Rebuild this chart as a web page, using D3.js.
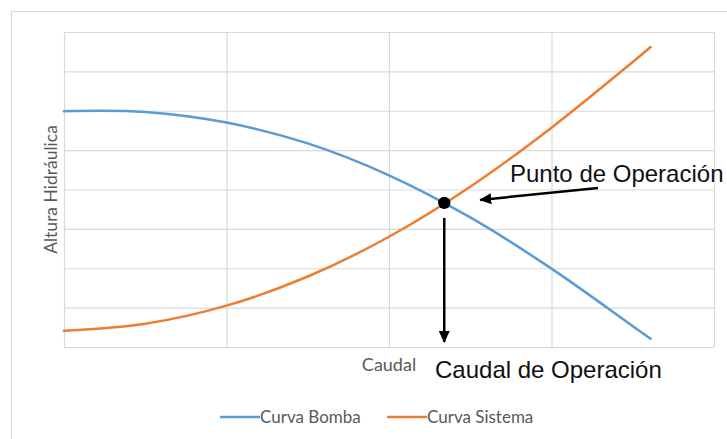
<!DOCTYPE html>
<html>
<head>
<meta charset="utf-8">
<script src="https://cdn.jsdelivr.net/npm/d3@7"></script>
<style>
  html, body { margin: 0; padding: 0; background: #fff; }
  svg { display: block; }
</style>
</head>
<body>
<svg id="chart" width="727" height="439"></svg>
<script>
// Caudal (flow) sample points and head values for each curve
const caudal   = [0, 0.5, 1.0, 1.5, 2.0, 2.5, 3.0, 3.5, 3.61];
const bomba    = [5.99, 5.97, 5.70, 5.17, 4.36, 3.29, 1.99, 0.53, 0.21];
const sistema  = [0.41, 0.59, 1.05, 1.79, 2.80, 4.07, 5.57, 7.24, 7.62];

// Operating point (intersection of the two curves)
const operacion = { q: 2.34, h: 3.66 };

const seriesNames  = ["Curva Bomba", "Curva Sistema"];
const seriesColors = ["#5B9BD5", "#ED7D31"];
const xTicks = [0, 1, 2, 3, 4];
const yTicks = [0, 1, 2, 3, 4, 5, 6, 7, 8];

const svg = d3.select("#chart");
const W = 727, H = 439;
const plot = { left: 64, top: 32, right: 714, bottom: 347 };

// outer chart frame
svg.append("rect")
  .attr("x", 11.5).attr("y", 11.5)
  .attr("width", W + 20).attr("height", H + 20)
  .attr("fill", "#fff").attr("stroke", "#d9d9d9").attr("stroke-width", 1);

const x = d3.scaleLinear().domain([0, 4]).range([plot.left, plot.right]);
const y = d3.scaleLinear().domain([0, 8]).range([plot.bottom, plot.top]);

// grid via axes with no labels
const gx = svg.append("g")
  .attr("transform", `translate(0,${plot.bottom})`)
  .call(d3.axisBottom(x).tickValues(xTicks).tickSize(-(plot.bottom - plot.top)).tickFormat(""));
const gy = svg.append("g")
  .attr("transform", `translate(${plot.left},0)`)
  .call(d3.axisLeft(y).tickValues(yTicks).tickSize(-(plot.right - plot.left)).tickFormat(""));
[gx, gy].forEach(g => {
  g.select(".domain").remove();
  g.selectAll(".tick line").attr("stroke", "#d9d9d9").attr("stroke-width", 1.2);
});

// curves
const line = d3.line()
  .x(d => x(d[0])).y(d => y(d[1]))
  .curve(d3.curveCatmullRom.alpha(0.5));

[bomba, sistema].forEach((vals, i) => {
  svg.append("path")
    .datum(caudal.map((q, k) => [q, vals[k]]))
    .attr("d", line)
    .attr("fill", "none")
    .attr("stroke", seriesColors[i])
    .attr("stroke-width", 2.5)
    .attr("stroke-linecap", "round");
});

// arrow marker
svg.append("defs").append("marker")
  .attr("id", "arrow")
  .attr("viewBox", "0 0 12 11")
  .attr("refX", 11).attr("refY", 5.5)
  .attr("markerWidth", 12).attr("markerHeight", 11)
  .attr("markerUnits", "userSpaceOnUse")
  .attr("orient", "auto")
  .append("path")
  .attr("d", "M0,0 L12,5.5 L0,11 Z")
  .attr("fill", "#000");

const px = x(operacion.q), py = y(operacion.h);

// operating point
svg.append("circle")
  .attr("cx", px).attr("cy", py).attr("r", 6.2)
  .attr("fill", "#000");

// arrow down to the flow axis
svg.append("line")
  .attr("x1", px).attr("y1", py + 15)
  .attr("x2", px).attr("y2", plot.bottom - 5)
  .attr("stroke", "#000").attr("stroke-width", 2.5)
  .attr("marker-end", "url(#arrow)");

// arrow pointing at the operating point
svg.append("line")
  .attr("x1", 598).attr("y1", 188)
  .attr("x2", px + 36).attr("y2", py - 3)
  .attr("stroke", "#000").attr("stroke-width", 2.5)
  .attr("marker-end", "url(#arrow)");

// annotations
svg.append("text")
  .attr("x", 510).attr("y", 182)
  .attr("font-family", "Liberation Sans, Arial, sans-serif")
  .attr("font-size", 24).attr("fill", "#111")
  .text("Punto de Operación");

svg.append("text")
  .attr("x", 435).attr("y", 378)
  .attr("font-family", "Liberation Sans, Arial, sans-serif")
  .attr("font-size", 24).attr("fill", "#111")
  .text("Caudal de Operación");

// axis titles
svg.append("text")
  .attr("x", 389).attr("y", 371)
  .attr("text-anchor", "middle")
  .attr("font-family", "Lato, 'Open Sans', sans-serif")
  .attr("font-size", 18).attr("fill", "#595959")
  .text("Caudal");

svg.append("text")
  .attr("transform", `translate(57,${(plot.top + plot.bottom) / 2}) rotate(-90)`)
  .attr("text-anchor", "middle")
  .attr("font-family", "Lato, 'Open Sans', sans-serif")
  .attr("font-size", 17.5).attr("fill", "#595959")
  .text("Altura Hidráulica");

// legend
const legendX = [220, 387];
seriesNames.forEach((name, i) => {
  const g = svg.append("g").attr("transform", `translate(${legendX[i]},417)`);
  g.append("line")
    .attr("x1", 0).attr("x2", 40).attr("y1", 0).attr("y2", 0)
    .attr("stroke", seriesColors[i]).attr("stroke-width", 2.5);
  g.append("text")
    .attr("x", 40).attr("y", 6)
    .attr("font-family", "Lato, 'Open Sans', sans-serif")
    .attr("font-size", 17).attr("fill", "#595959")
    .text(name);
});
</script>
</body>
</html>
